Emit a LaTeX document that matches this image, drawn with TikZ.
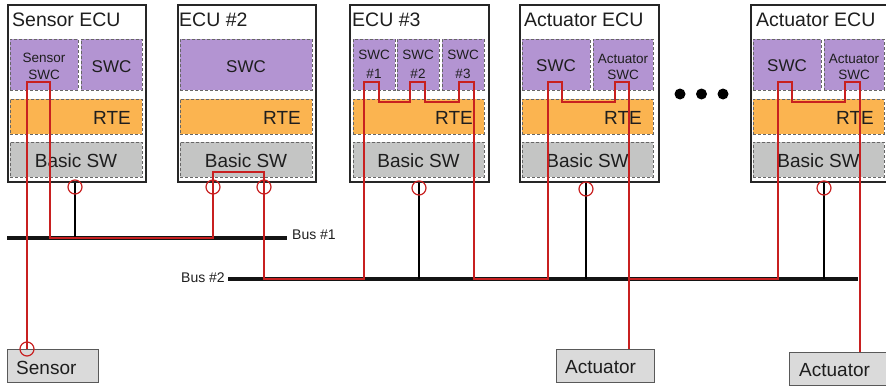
\documentclass[tikz,border=0pt]{standalone}
\usepackage{fontspec}
\setmainfont{Liberation Sans}
\definecolor{swcfill}{RGB}{179,148,210}
\definecolor{rtefill}{RGB}{251,180,80}
\definecolor{bswfill}{RGB}{196,197,196}
\definecolor{devfill}{RGB}{218,218,218}
\definecolor{sig}{RGB}{200,32,32}
\definecolor{txt}{RGB}{30,30,30}
\tikzset{
  ecubox/.style={draw=black!85, line width=2pt, fill=white, inner sep=0pt},
  layer/.style={draw=black!60, dash pattern=on 3pt off 2pt, line width=0.8pt, inner sep=0pt},
  swcbox/.style={layer, fill=swcfill},
  rtebox/.style={layer, fill=rtefill},
  bswbox/.style={layer, fill=bswfill},
  devbox/.style={draw=black!65, line width=1.2pt, fill=devfill, inner sep=0pt},
  busline/.style={line width=4pt, black!92},
  stubline/.style={line width=1.5pt, black},
  sigline/.style={line width=1.6pt, sig, line join=miter},
  tap/.style={draw=sig, line width=1.2pt, circle, minimum size=14pt, inner sep=0pt},
  dotmark/.style={fill=black, circle, minimum size=11pt, inner sep=0pt},
  ttl/.style={text=txt, inner sep=0pt, anchor=base west, font=\fontsize{19.5}{22}\selectfont},
  big/.style={text=txt, inner sep=0pt, anchor=base, font=\fontsize{19}{22}\selectfont},
  mid/.style={text=txt, inner sep=0pt, anchor=base, font=\fontsize{17}{20}\selectfont},
  sml/.style={text=txt, inner sep=0pt, anchor=base, font=\fontsize{13.5}{16}\selectfont},
  buslbl/.style={text=txt, inner sep=0pt, anchor=base west, font=\fontsize{14}{16}\selectfont},
}
\newcommand\boxat[6]{\node[#1, anchor=north west, minimum width=#4pt-#2pt, minimum height=#5pt-#3pt] (#6) at (#2,#3) {};}
\begin{document}
\begin{tikzpicture}[x=1pt,y=-1pt]
\useasboundingbox (0,0) rectangle (886,386);
\clip (0,0) rectangle (886,386);
% ---------- ECU frames ----------
\boxat{ecubox}{7}{4}{145}{181}{ecuA}
\boxat{ecubox}{177}{4}{315}{181}{ecuB}
\boxat{ecubox}{349}{4}{488}{181}{ecuC}
\boxat{ecubox}{519}{4}{658}{181}{ecuD}
\boxat{ecubox}{750}{4}{890}{181}{ecuE}
% ---------- Sensor ECU ----------
\boxat{swcbox}{10}{39}{78}{90}{aS1}
\boxat{swcbox}{81}{39}{142}{90}{aS2}
\boxat{rtebox}{10}{99}{142}{134}{aR}
\boxat{bswbox}{10}{142}{142}{177}{aB}
\node[ttl] (aT) at (12,26.5) {Sensor ECU};
\node[sml] (aS1a) at (44,62) {Sensor};
\node[sml] (aS1b) at (44,79) {SWC};
\node[mid] (aS2t) at (111.5,72) {SWC};
\node[big, anchor=base east] (aRt) at (131,124) {RTE};
\node[big] (aBt) at (76,167) {Basic SW};
% ---------- ECU #2 ----------
\boxat{swcbox}{180}{39}{312}{90}{bS1}
\boxat{rtebox}{180}{99}{312}{134}{bR}
\boxat{bswbox}{180}{142}{312}{177}{bB}
\node[ttl] (bT) at (179,26.5) {ECU \#2};
\node[mid] (bS1t) at (246,72) {SWC};
\node[big, anchor=base east] (bRt) at (301,124) {RTE};
\node[big] (bBt) at (246,167) {Basic SW};
% ---------- ECU #3 ----------
\boxat{swcbox}{353}{39}{395}{90}{cS1}
\boxat{swcbox}{397}{39}{439}{90}{cS2}
\boxat{swcbox}{442}{39}{484}{90}{cS3}
\boxat{rtebox}{353}{99}{484}{134}{cR}
\boxat{bswbox}{353}{142}{484}{177}{cB}
\node[ttl] (cT) at (352,26.5) {ECU \#3};
\node[sml] (cS1a) at (374,59.5) {SWC};
\node[sml] (cS1b) at (374,78) {\#1};
\node[sml] (cS2a) at (418,59.5) {SWC};
\node[sml] (cS2b) at (418,78) {\#2};
\node[sml] (cS3a) at (463,59.5) {SWC};
\node[sml] (cS3b) at (463,78) {\#3};
\node[big, anchor=base east] (cRt) at (473,124) {RTE};
\node[big] (cBt) at (418.5,167) {Basic SW};
% ---------- Actuator ECU ----------
\boxat{swcbox}{522}{39}{590}{90}{dS1}
\boxat{swcbox}{593}{39}{653}{90}{dS2}
\boxat{rtebox}{522}{99}{653}{134}{dR}
\boxat{bswbox}{522}{142}{653}{177}{dB}
\node[ttl] (dT) at (524,26.5) {Actuator ECU};
\node[mid] (dS1t) at (556,71) {SWC};
\node[sml] (dS2a) at (623,63) {Actuator};
\node[sml] (dS2b) at (623,79) {SWC};
\node[big, anchor=base east] (dRt) at (642,124) {RTE};
\node[big] (dBt) at (587.5,167) {Basic SW};
% ---------- last Actuator ECU ----------
\boxat{swcbox}{753}{39}{821}{90}{eS1}
\boxat{swcbox}{824}{39}{884}{90}{eS2}
\boxat{rtebox}{753}{99}{884}{134}{eR}
\boxat{bswbox}{753}{142}{884}{177}{eB}
\node[ttl] (eT) at (756,26.5) {Actuator ECU};
\node[mid] (eS1t) at (787,71) {SWC};
\node[sml] (eS2a) at (854,63) {Actuator};
\node[sml] (eS2b) at (854,79) {SWC};
\node[big, anchor=base east] (eRt) at (874,124) {RTE};
\node[big] (eBt) at (818.5,167) {Basic SW};
% ---------- dots ----------
\node[dotmark] (d1) at (680,94) {};
\node[dotmark] (d2) at (701.5,94) {};
\node[dotmark] (d3) at (723,94) {};
% ---------- devices ----------
\boxat{devbox}{7}{349}{98}{382}{sensor}
\node[big, anchor=base west] (sensorT) at (16,374) {Sensor};
\boxat{devbox}{556}{349}{654}{382}{act1}
\node[big, anchor=base west] (act1T) at (565,373) {Actuator};
\boxat{devbox}{789}{352}{892}{385}{act2}
\node[big, anchor=base west] (act2T) at (799,376) {Actuator};
% ---------- buses ----------
\coordinate (b1w) at (7,238);
\coordinate (b1e) at (287,238);
\coordinate (b2w) at (228,279);
\coordinate (b2e) at (858,279);
\draw[busline] (b1w) -- (b1e);
\draw[busline] (b2w) -- (b2e);
\node[buslbl] (bus1) at (292,239) {Bus \#1};
\node[buslbl] (bus2) at (181,282) {Bus \#2};
% ---------- black stubs ----------
\draw[stubline] (ecuA.south -| 75,0) -- (75,238);
\draw[stubline] (ecuC.south -| 419,0) -- (419,279);
\draw[stubline] (ecuD.south -| 586,0) -- (586,279);
\draw[stubline] (ecuE.south -| 824,0) -- (824,279);
% ---------- signal path ----------
\draw[sigline] (sensor.north -| 27,0) -- (27,82) -- (50,82) -- (50,238)
  -- (213,238) -- (213,172) -- (264,172) -- (264,279) -- (364,279)
  -- (364,82) -- (379,82) -- (379,102) -- (410,102) -- (410,82) -- (425,82)
  -- (425,102) -- (459,102) -- (459,82) -- (474,82) -- (474,279)
  -- (548,279) -- (548,82) -- (562,82) -- (562,102) -- (615,102) -- (615,82)
  -- (629,82) -- (629,349);
\draw[sigline] (629,279) -- (778,279) -- (778,82) -- (792,82) -- (792,102)
  -- (845,102) -- (845,82) -- (860,82) -- (860,352);
% ---------- taps ----------
\node[tap] (tS) at (27,349) {};
\node[tap] (tA) at (75,187) {};
\node[tap] (tB1) at (213,187) {};
\node[tap] (tB2) at (264,187) {};
\node[tap] (tC) at (419,188) {};
\node[tap] (tD) at (586,189) {};
\node[tap] (tE) at (824,188) {};
\end{tikzpicture}
\end{document}
